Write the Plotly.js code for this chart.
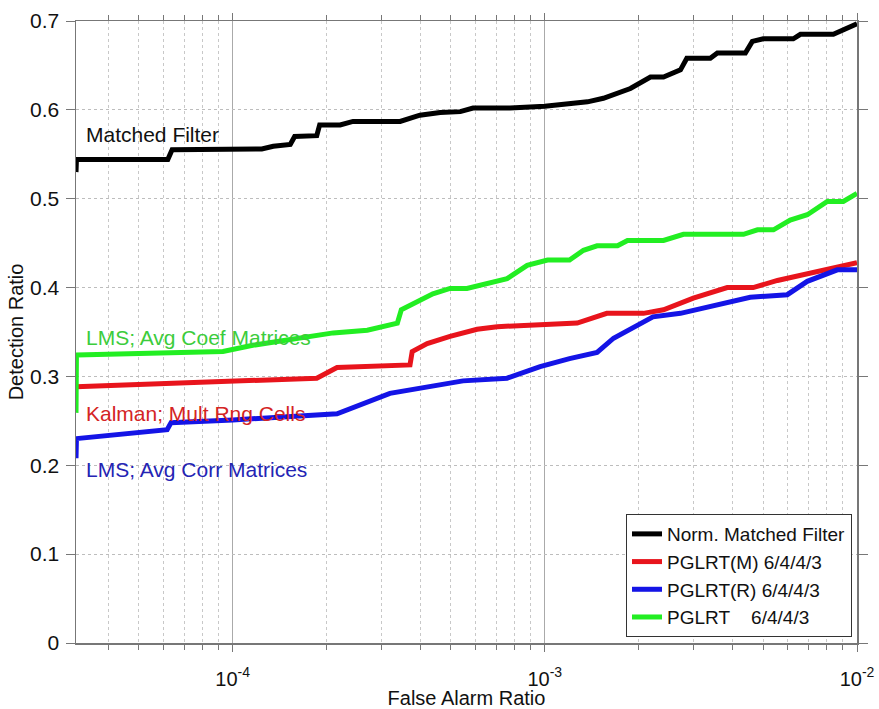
<!DOCTYPE html>
<html>
<head>
<meta charset="utf-8">
<script src="https://cdn.plot.ly/plotly-3.0.1.min.js"></script>
<style>html,body{margin:0;padding:0;background:#fff;}#chart{width:879px;height:709px;}</style>
</head>
<body>
<div id="chart"></div>
<script>
// Matched filter (black)
const mfX = [3.15e-5,3.16e-5,6.2e-5,6.4e-5,1.24e-4,1.35e-4,1.53e-4,1.58e-4,1.86e-4,1.9e-4,2.21e-4,2.43e-4,3.44e-4,3.98e-4,4.62e-4,5.36e-4,5.89e-4,7.74e-4,1.0e-3,1.37e-3,1.54e-3,1.88e-3,2.18e-3,2.40e-3,2.72e-3,2.85e-3,3.39e-3,3.57e-3,4.39e-3,4.62e-3,5.01e-3,6.25e-3,6.59e-3,8.40e-3,1.0e-2];
const mfY = [0.530,0.544,0.544,0.555,0.556,0.559,0.561,0.570,0.571,0.583,0.583,0.587,0.587,0.594,0.597,0.598,0.602,0.602,0.604,0.609,0.613,0.624,0.637,0.637,0.645,0.658,0.658,0.664,0.664,0.677,0.680,0.680,0.685,0.685,0.697];
// PGLRT(M) (red)
const mX = [3.15e-5,1.86e-4,2.16e-4,3.70e-4,3.76e-4,4.20e-4,4.97e-4,6.07e-4,7.04e-4,8.97e-4,1.27e-3,1.58e-3,2.07e-3,2.40e-3,2.99e-3,3.84e-3,4.65e-3,5.56e-3,7.80e-3,9.73e-3,1.0e-2];
const mY = [0.2885,0.298,0.310,0.313,0.328,0.337,0.345,0.353,0.356,0.358,0.360,0.371,0.371,0.375,0.388,0.400,0.400,0.408,0.420,0.428,0.428];
// PGLRT(R) (blue)
const rX = [3.15e-5,3.16e-5,6.17e-5,6.35e-5,1.0e-4,2.16e-4,3.19e-4,4.62e-4,5.47e-4,7.57e-4,9.66e-4,1.20e-3,1.47e-3,1.66e-3,2.22e-3,2.72e-3,3.73e-3,4.55e-3,5.98e-3,6.93e-3,8.65e-3,1.0e-2];
const rY = [0.208,0.230,0.240,0.248,0.251,0.258,0.281,0.290,0.295,0.298,0.311,0.320,0.327,0.343,0.367,0.371,0.382,0.389,0.392,0.407,0.420,0.420];
// PGLRT (green)
const pX = [3.15e-5,3.16e-5,9.31e-5,1.16e-4,2.10e-4,2.70e-4,3.37e-4,3.47e-4,4.38e-4,4.97e-4,5.63e-4,7.57e-4,8.78e-4,1.02e-3,1.20e-3,1.33e-3,1.47e-3,1.71e-3,1.84e-3,2.40e-3,2.78e-3,4.33e-3,4.80e-3,5.40e-3,6.11e-3,6.93e-3,8.03e-3,9.04e-3,1.0e-2];
const pY = [0.259,0.324,0.328,0.335,0.349,0.352,0.360,0.375,0.393,0.399,0.399,0.410,0.425,0.431,0.431,0.442,0.447,0.447,0.453,0.453,0.460,0.460,0.465,0.465,0.476,0.482,0.497,0.497,0.506];

const seriesNames = ["Norm. Matched Filter","PGLRT(M) 6/4/4/3","PGLRT(R) 6/4/4/3","PGLRT\u00a0\u00a0\u00a0\u00a06/4/4/3"];
const xTickVals = [1e-4,1e-3,1e-2];
const xTickText = ["10<sup>-4</sup>","10<sup>-3</sup>","10<sup>-2</sup>"];
const labelTexts = ["Matched Filter","LMS; Avg Coef Matrices","Kalman; Mult Rng Cells","LMS; Avg Corr Matrices"];
const labelY = [0.572,0.344,0.258,0.195];

const colors = ["#000000","#e8141c","#1414e6","#22ee22"];
const labelColors = ["#111111","#3ccc3c","#d42424","#2424b4"];

const minorVals = [];
for (let e = -5; e <= -3; e++) for (let m = 2; m <= 9; m++) minorVals.push(m * Math.pow(10, e));

const F = "Liberation Sans, Arial, sans-serif";
const traces = [[mfX,mfY],[mX,mY],[rX,rY],[pX,pY]].map((d,i)=>({
  x:d[0], y:d[1], type:'scatter', mode:'lines', name:seriesNames[i],
  line:{color:colors[i], width:5}
}));

const annotations = labelTexts.map((t,i)=>({
  xref:'paper', yref:'y', x:0.01, y:labelY[i], xanchor:'left', yanchor:'middle',
  text:t, showarrow:false, font:{family:F, size:21, color:labelColors[i]}
}));

const layout = {
  width:879, height:709,
  margin:{l:76, r:22, t:21, b:66},
  paper_bgcolor:'#fff', plot_bgcolor:'#fff',
  font:{family:F, size:20, color:'#111'},
  showlegend:true,
  legend:{x:0.9936, y:0.0096, xanchor:'right', yanchor:'bottom', bgcolor:'#fff',
    bordercolor:'#333', borderwidth:1, font:{family:F, size:19, color:'#111'},
    tracegroupgap:0},
  xaxis:{type:'log', range:[Math.log10(3.15e-5), -2],
    tickvals:xTickVals, ticktext:xTickText, ticks:'outside', ticklen:7, tickcolor:'#777',
    showline:true, linecolor:'#777', linewidth:1.5, mirror:'ticks',
    showgrid:true, gridcolor:'#aaaaaa', gridwidth:1, zeroline:false,
    tickfont:{family:F, size:20, color:'#111'}, ticklabelstandoff:10,
    minor:{tickvals:minorVals, ticks:'outside', ticklen:5, tickcolor:'#777',
      showgrid:true, gridcolor:'#c8c8c8', griddash:'dot', gridwidth:1},
    title:{text:'False Alarm Ratio', font:{family:F, size:20, color:'#111'}, standoff:2}
  },
  yaxis:{range:[0,0.7], dtick:0.1, tick0:0, ticks:'outside', ticklen:9, tickcolor:'#777',
    showline:true, linecolor:'#777', linewidth:1.5, mirror:'ticks',
    showgrid:true, gridcolor:'#bdbdbd', griddash:'dot', gridwidth:1, zeroline:false,
    tickfont:{family:F, size:21, color:'#111'}, ticklabelstandoff:2,
    title:{text:'Detection Ratio', font:{family:F, size:20, color:'#111'}, standoff:1}
  },
  annotations:annotations
};

Plotly.newPlot('chart', traces, layout, {displayModeBar:false, staticPlot:true});
</script>
</body>
</html>
